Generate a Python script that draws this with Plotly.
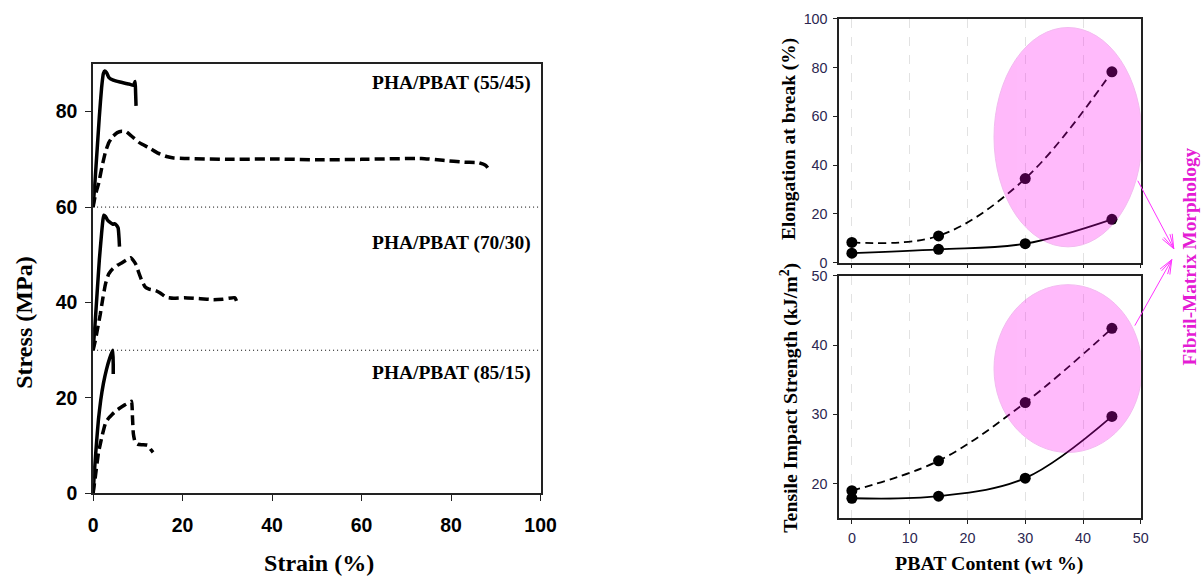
import math
import plotly.graph_objects as go

# ---------------- data ----------------
# Left panel: stress-strain curves (strain %, stress MPa; curves offset as in the figure)
s55_solid_x = [0, 0.4, 0.9, 1.4, 1.9, 2.3, 2.6, 3.0, 3.5, 4.5, 6.0, 8.0, 9.0, 9.4, 9.5, 9.6]
s55_solid_y = [60, 65, 72, 79, 85, 88, 88.5, 88.2, 87.2, 86.6, 86.2, 85.8, 85.5, 86.3, 84.0, 81.2]
s55_dash_x = [0, 0.5, 1.2, 2.0, 2.8, 3.5, 4.4, 5.4, 6.4, 7.4, 8.2, 9.2, 10.5, 12.4, 14.5, 16.4, 18.0, 20.4,
              30, 40, 50, 60, 73.4, 78.2, 83.0, 86.2, 87.8, 88.6]
s55_dash_y = [60, 62.5, 64.8, 68.5, 71.7, 73.5, 74.8, 75.6, 75.9, 75.8, 75.2, 74.4, 73.4, 72.5, 71.3, 70.6, 70.3, 70.2,
              70.0, 70.1, 69.9, 70.0, 70.2, 69.8, 69.4, 69.3, 68.7, 67.7]

s70_solid_x = [0, 0.4, 0.9, 1.4, 1.9, 2.2, 2.4, 2.8, 3.2, 3.8, 4.4, 4.8, 5.3, 5.6, 5.8, 5.9]
s70_solid_y = [30, 35, 42, 49, 54.5, 57.3, 58.3, 58.0, 57.3, 56.8, 56.4, 56.5, 56.1, 55.6, 53.5, 51.7]
s70_dash_x = [0, 0.5, 1.0, 1.6, 2.2, 2.8, 3.5, 4.4, 5.4, 6.4, 7.4, 8.4, 9.0, 9.6, 10.2, 10.8, 11.6, 12.5,
              14.0, 15.0, 16.4, 18.0, 20.4, 24.0, 26.9, 29.0, 31.7, 32.1]
s70_dash_y = [30, 32, 34.5, 37.5, 41, 44, 46, 47.1, 47.8, 48.3, 48.9, 49.4, 48.8, 47.9, 46.3, 44.8, 43.3, 42.8,
              42.5, 42.0, 41.1, 40.9, 41.0, 40.8, 40.6, 40.7, 41.0, 40.2]

s85_solid_x = [0, 0.4, 0.8, 1.2, 1.7, 2.3, 3.0, 3.7, 4.4, 4.5, 4.5]
s85_solid_y = [0, 6, 11, 15.5, 19.5, 23, 26, 28.3, 30, 27, 25]
s85_dash_x = [0, 0.5, 1.2, 2.0, 2.8, 3.5, 4.2, 5.0, 6.0, 7.0, 8.0, 8.6, 8.8, 9.0, 9.4, 10.0, 11.0, 12.2, 12.8, 13.4]
s85_dash_y = [0, 3.5, 8.5, 12, 14.8, 15.8, 16.5, 17.2, 17.9, 18.5, 19.0, 19.3, 16.0, 12.5, 10.7, 10.3, 10.2, 10.1, 9.3, 8.6]

# Right panels
pbat = [0, 15, 30, 45]
elong_solid = [3.9, 5.5, 7.8, 17.8]
elong_dash = [8.3, 11.0, 34.5, 78.3]
tis_solid = [17.9, 18.2, 20.8, 29.7]
tis_dash = [19.0, 23.3, 31.7, 42.4]

left_xticks = [0, 20, 40, 60, 80, 100]
left_yticks = [0, 20, 40, 60, 80]
right_xticks = [0, 10, 20, 30, 40, 50]
elong_yticks = [0, 20, 40, 60, 80, 100]
tis_yticks = [20, 30, 40, 50]

blend_labels = ["PHA/PBAT (55/45)", "PHA/PBAT (70/30)", "PHA/PBAT (85/15)"]

# ---------------- geometry ----------------
# Positions are designed in the 1204x577 picture's pixels and converted to page pixels
# with the page->picture mapping measured in earlier renders.
AX, BX = 0.984, 4.8
AY, BY = 0.969, 7.0
FW, FH = 1220, 590          # figure size (page px), body margin removed
FS = 1 / 0.976              # font / size compensation

def PX(x):
    return (x - BX) / AX / FW
def PY(y):
    return 1 - (y - BY) / AY / FH

SERIF = "Liberation Serif, Times New Roman, serif"
SANS = "Liberation Sans, Arial, sans-serif"
NARROW = "Liberation Sans Narrow, Arial Narrow, Liberation Sans, Arial, sans-serif"
MAG = "#E41CD4"

fig = go.Figure()

DASH_L = "10px,5px"
for xs, ys, dash in [
    (s55_solid_x, s55_solid_y, "solid"), (s55_dash_x, s55_dash_y, DASH_L),
    (s70_solid_x, s70_solid_y, "solid"), (s70_dash_x, s70_dash_y, DASH_L),
    (s85_solid_x, s85_solid_y, "solid"), (s85_dash_x, s85_dash_y, DASH_L),
]:
    fig.add_trace(go.Scatter(x=xs, y=ys, mode="lines", xaxis="x", yaxis="y",
                             line=dict(color="black", width=3.5, dash=dash, shape="spline", smoothing=0.4),
                             hoverinfo="skip"))

DASH_R = "8px,5px"
for ys, dash, xa, ya in [
    (elong_dash, DASH_R, "x2", "y2"), (elong_solid, "solid", "x2", "y2"),
    (tis_dash, DASH_R, "x3", "y3"), (tis_solid, "solid", "x3", "y3"),
]:
    fig.add_trace(go.Scatter(x=pbat, y=ys, mode="lines+markers", xaxis=xa, yaxis=ya,
                             line=dict(color="black", width=1.8, dash=dash, shape="spline", smoothing=1.0),
                             marker=dict(color="black", size=11), hoverinfo="skip"))

left_tickfont = dict(family=SANS, size=19 * FS, color="black", weight="bold")
right_tickfont = dict(family=NARROW, size=14 * FS, color="#2b2650")

common_line = dict(showline=True, linecolor="#222", linewidth=1.5, mirror=True, zeroline=False,
                   ticks="outside", tickcolor="#222")

fig.update_layout(
    width=FW, height=FH, autosize=False,
    margin=dict(l=0, r=0, t=0, b=0),
    paper_bgcolor="white", plot_bgcolor="white", showlegend=False,
    xaxis=dict(domain=[PX(93), PX(541)], range=[0, 100], tickvals=left_xticks, anchor="y",
               ticklen=6, showgrid=False, tickfont=left_tickfont, ticklabelstandoff=7, **common_line),
    yaxis=dict(domain=[PY(493), PY(63)], range=[0, 90], tickvals=left_yticks, anchor="x",
               ticklen=6, showgrid=False, tickfont=left_tickfont, ticklabelstandoff=4, **common_line),
    xaxis2=dict(domain=[PX(840), PX(1142)], range=[-2.2, 50], tickvals=right_xticks, anchor="y2",
                showticklabels=False, ticklen=4,
                showgrid=True, gridcolor="#e2e2e2", griddash="dash", gridwidth=1, **common_line),
    yaxis2=dict(domain=[PY(262), PY(18)], range=[0, 100], tickvals=elong_yticks, anchor="x2",
                ticklen=4, showgrid=False, tickfont=right_tickfont, ticklabelstandoff=3, **common_line),
    xaxis3=dict(domain=[PX(840), PX(1142)], range=[-2.2, 50], tickvals=right_xticks, anchor="y3",
                ticklen=4, showgrid=True, gridcolor="#e2e2e2", griddash="dash", gridwidth=1,
                tickfont=right_tickfont, ticklabelstandoff=2, **common_line),
    yaxis3=dict(domain=[PY(518), PY(275)], range=[15, 50], tickvals=tis_yticks, anchor="x3",
                ticklen=4, showgrid=False, tickfont=right_tickfont, ticklabelstandoff=3, **common_line),
)

shapes = []
# dotted separators between the stacked curves
for yv in [60, 30]:
    shapes.append(dict(type="line", xref="x", yref="y", x0=0, x1=100, y0=yv, y1=yv,
                       line=dict(color="black", width=1, dash="1px,3px"), layer="above"))
# highlight ellipses
shapes.append(dict(type="circle", xref="x2", yref="y2", x0=24.6, x1=50.2, y0=6.5, y1=96.5,
                   fillcolor="#ff00ee", opacity=0.27, line=dict(color="#d000c8", width=1), layer="above"))
shapes.append(dict(type="circle", xref="x3", yref="y3", x0=24.6, x1=50.2, y0=24.5, y1=48.7,
                   fillcolor="#ff00ee", opacity=0.27, line=dict(color="#d000c8", width=1), layer="above"))

# arrows (picture-pixel geometry -> paper)
def arrow(x0, y0, x1, y1, L=15, ang=22):
    dx, dy = x1 - x0, y1 - y0
    n = math.hypot(dx, dy)
    ux, uy = -dx / n, -dy / n
    path = f"M {PX(x0)} {PY(y0)} L {PX(x1)} {PY(y1)}"
    for a in (ang, -ang, ang * 0.6, -ang * 0.6):
        t = math.radians(a)
        wx = ux * math.cos(t) - uy * math.sin(t)
        wy = ux * math.sin(t) + uy * math.cos(t)
        path += f" M {PX(x1)} {PY(y1)} L {PX(x1 + wx * L)} {PY(y1 + wy * L)}"
    return dict(type="path", xref="paper", yref="paper", path=path,
                line=dict(color="#ff33ff", width=1), layer="above")

shapes.append(arrow(1139, 180, 1175, 248))
shapes.append(arrow(1136, 325, 1173, 259))
fig.update_layout(shapes=shapes)

ann = []
for txt, yv in zip(blend_labels, [85.9, 52.4, 25.3]):
    ann.append(dict(text=txt, x=98.3, y=yv, xref="x", yref="y", xanchor="right", yanchor="middle",
                    showarrow=False, font=dict(family=SERIF, size=19 * FS, color="black", weight="bold")))

def title(txt, x, y, size, angle=0, color="black"):
    return dict(text=txt, x=PX(x), y=PY(y), xref="paper", yref="paper", xanchor="center", yanchor="middle",
                showarrow=False, textangle=angle,
                font=dict(family=SERIF, size=size * FS, color=color, weight="bold"))

ann.append(title("Stress (MPa)", 23, 322, 23.5, -90))
ann.append(title("Strain (%)", 319, 563, 23.5))
ann.append(title("Elongation at break (%)", 790, 138, 19, -90))
ann.append(title("Tensile Impact Strength (kJ/m<sup>2</sup>)", 790, 397, 19.3, -90))
ann.append(title("PBAT Content (wt %)", 990, 563, 19.4))
ann.append(title("Fibril-Matrix Morphology", 1191, 256, 18.8, -90, MAG))
fig.update_layout(annotations=ann)

fig.write_html(
    "out.html",
    config={"displayModeBar": False},
    post_script=("document.documentElement.style.margin='0';document.body.style.margin='0';"
                 "document.documentElement.style.overflow='hidden';document.body.style.overflow='hidden';"),
)
